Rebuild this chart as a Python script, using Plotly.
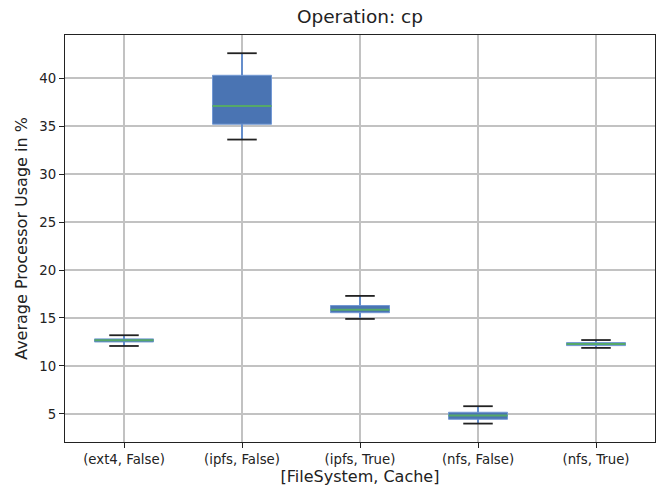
import plotly.graph_objects as go

categories = ["(ext4, False)", "(ipfs, False)", "(ipfs, True)", "(nfs, False)", "(nfs, True)"]
lower_whisker = [12.08, 33.6, 14.9, 3.99, 11.88]
q1 = [12.50, 35.2, 15.55, 4.44, 12.12]
median = [12.67, 37.1, 15.86, 4.82, 12.29]
q3 = [12.82, 40.3, 16.3, 5.17, 12.43]
upper_whisker = [13.2, 42.6, 17.3, 5.8, 12.7]
y_ticks = [5, 10, 15, 20, 25, 30, 35, 40]

positions = list(range(1, len(categories) + 1))
box_w = 0.5
cap_w = 0.25

fig = go.Figure()

# box bodies
fig.add_trace(go.Bar(
    x=positions, base=q1, y=[b - a for a, b in zip(q1, q3)], width=box_w,
    marker=dict(color="#4a74b3", line=dict(color="#7399d4", width=1)),
    hoverinfo="skip", showlegend=False,
))

# whiskers
wx, wy = [], []
for p, lo, a, b, hi in zip(positions, lower_whisker, q1, q3, upper_whisker):
    wx += [p, p, None, p, p, None]
    wy += [b, hi, None, a, lo, None]
fig.add_trace(go.Scatter(x=wx, y=wy, mode="lines", line=dict(color="#5b88cc", width=1.8),
                         hoverinfo="skip", showlegend=False))

# caps
cx, cy = [], []
for p, lo, hi in zip(positions, lower_whisker, upper_whisker):
    cx += [p - cap_w / 2, p + cap_w / 2, None, p - cap_w / 2, p + cap_w / 2, None]
    cy += [hi, hi, None, lo, lo, None]
fig.add_trace(go.Scatter(x=cx, y=cy, mode="lines", line=dict(color="#222222", width=1.8),
                         hoverinfo="skip", showlegend=False))

# medians
mx, my = [], []
for p, m in zip(positions, median):
    mx += [p - box_w / 2, p + box_w / 2, None]
    my += [m, m, None]
fig.add_trace(go.Scatter(x=mx, y=my, mode="lines", line=dict(color="#55a868", width=2),
                         hoverinfo="skip", showlegend=False))

font_family = "DejaVu Sans"
fig.update_layout(
    width=659, height=487,
    margin=dict(l=65, r=4, t=35, b=45, autoexpand=False),
    plot_bgcolor="white", paper_bgcolor="white",
    font=dict(family=font_family, color="#222222"),
    title=dict(text="Operation: cp", x=0.5, xref="paper", xanchor="center",
               y=1 - 17 / 487, yref="container", yanchor="middle", automargin=False,
               font=dict(size=18.5, family=font_family, color="#222222")),
    xaxis=dict(
        range=[0.5, 5.5], tickmode="array", tickvals=positions, ticktext=categories,
        automargin=True,
        showgrid=True, gridcolor="#c2c2c2", gridwidth=1.6,
        showline=True, linecolor="#222222", linewidth=1.3, mirror=True,
        ticks="outside", ticklen=5, tickcolor="#222222", tickwidth=1.2,
        tickfont=dict(size=13.3, family=font_family, color="#222222"),
        title=dict(text="[FileSystem, Cache]", standoff=2,
                   font=dict(size=16, family=font_family, color="#222222")),
        zeroline=False,
    ),
    yaxis=dict(
        range=[2.07, 44.5], tickmode="array", tickvals=y_ticks,
        ticktext=[str(v) for v in y_ticks], automargin=True,
        showgrid=True, gridcolor="#c2c2c2", gridwidth=1.6,
        showline=True, linecolor="#222222", linewidth=1.3, mirror=True,
        ticks="outside", ticklen=5, tickcolor="#222222", tickwidth=1.2,
        tickfont=dict(size=13.3, family=font_family, color="#222222"),
        title=dict(text="Average Processor Usage in %", standoff=7,
                   font=dict(size=16, family=font_family, color="#222222")),
        zeroline=False,
    ),
)

fig.write_html("out.html", config={"displayModeBar": False},
               post_script="document.body.style.margin='0';")
